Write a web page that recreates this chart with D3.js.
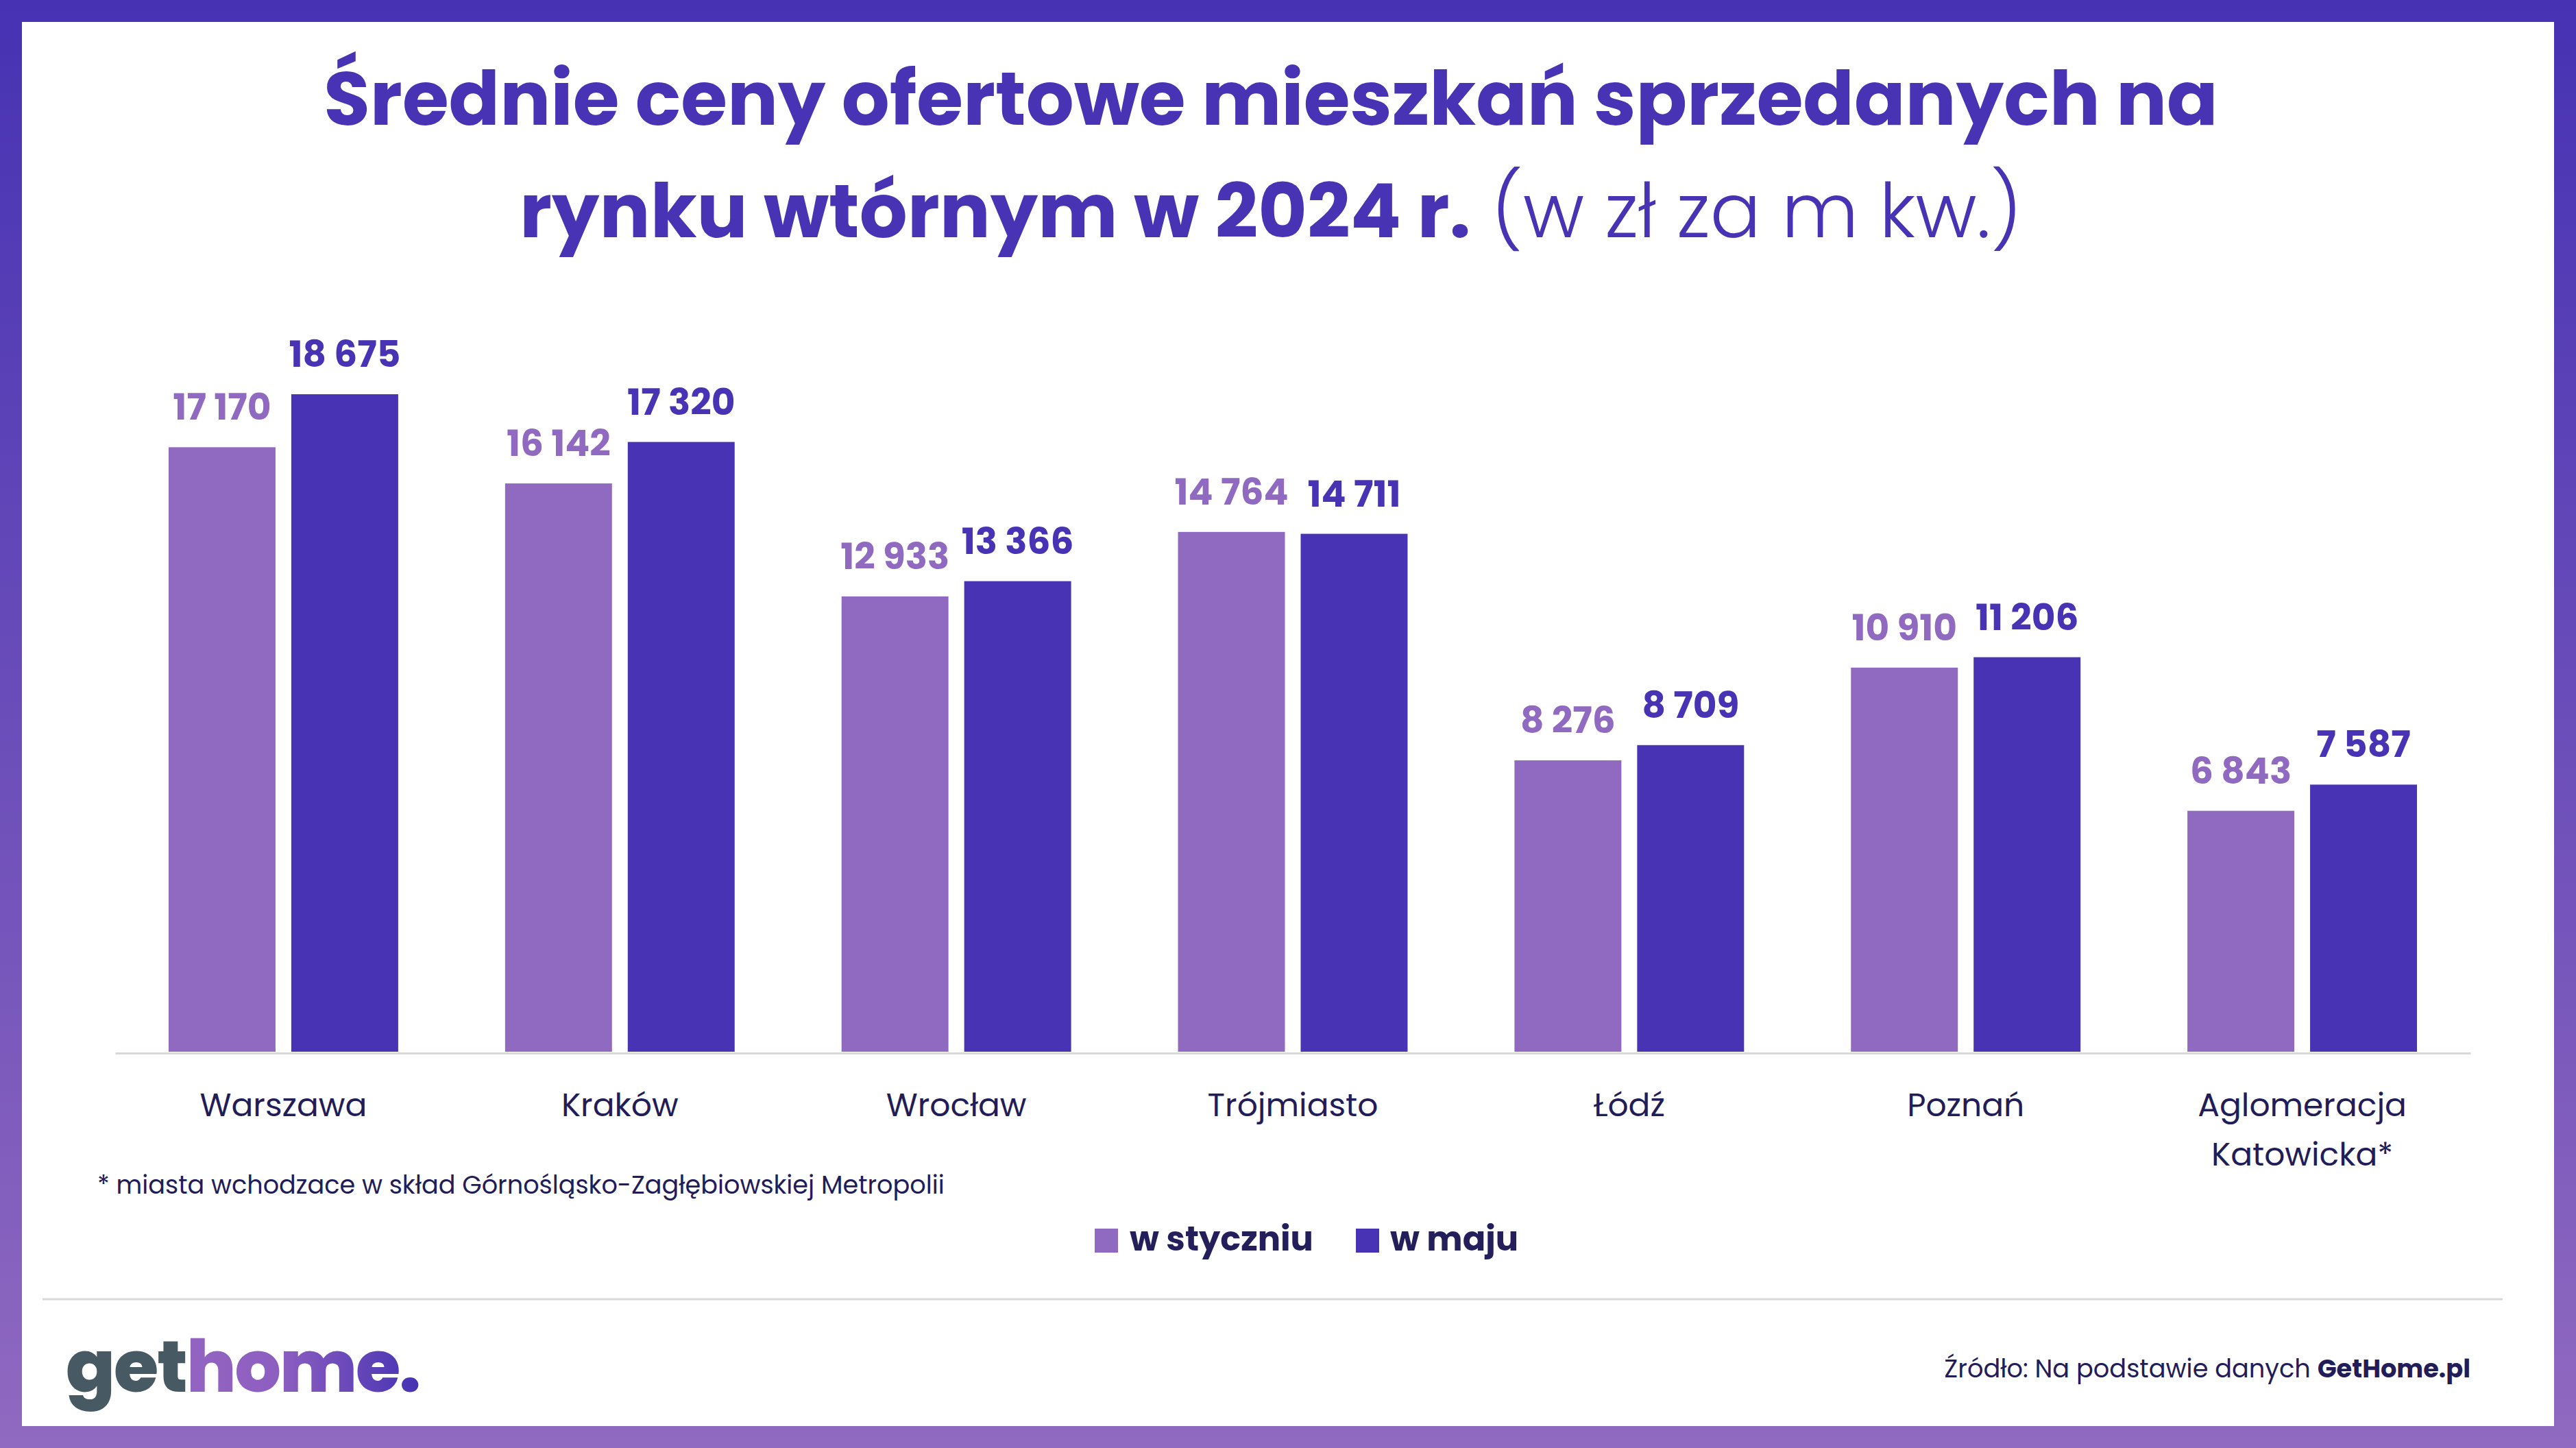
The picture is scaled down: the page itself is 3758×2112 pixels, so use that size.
<!DOCTYPE html>
<html>
<head>
<meta charset="utf-8">
<script src="https://cdn.jsdelivr.net/npm/d3@7"></script>
<style>
  html, body { margin: 0; padding: 0; background: #fff; }
  svg { display: block; }
</style>
</head>
<body>
<script>
// ---- data ----
const categories = ["Warszawa", "Kraków", "Wrocław", "Trójmiasto", "Łódź", "Poznań", "Aglomeracja\nKatowicka*"];
const seriesNames = ["w styczniu", "w maju"];
const januaryValues = [17170, 16142, 12933, 14764, 8276, 10910, 6843];
const mayValues = [18675, 17320, 13366, 14711, 8709, 11206, 7587];
const titleLine1 = "Średnie ceny ofertowe mieszkań sprzedanych na";
const titleLine2Bold = "rynku wtórnym w 2024 r.";
const titleLine2Light = " (w zł za m kw.)";
const footnote = "* miasta wchodzace w skład Górnośląsko-Zagłębiowskiej Metropolii";
const sourceText = "Źródło: Na podstawie danych ";
const sourceBold = "GetHome.pl";

const W = 3758, H = 2112;
const FONT = "Poppins, Inter, 'Noto Sans', sans-serif";
const C_JAN = "#9069c0", C_MAY = "#4733b3", C_NAVY = "#221d58", C_TITLE = "#4733b3";

const svg = d3.select("body").append("svg").attr("width", W).attr("height", H);
const defs = svg.append("defs");

const frameGrad = defs.append("linearGradient").attr("id", "frameGrad")
  .attr("x1", 0).attr("y1", 0).attr("x2", 0).attr("y2", 1);
frameGrad.append("stop").attr("offset", "0%").attr("stop-color", "#4632b3");
frameGrad.append("stop").attr("offset", "100%").attr("stop-color", "#9069c0");

const logoGrad = defs.append("linearGradient").attr("id", "logoGrad")
  .attr("gradientUnits", "userSpaceOnUse").attr("x1", 300).attr("y1", 0).attr("x2", 614).attr("y2", 0);
logoGrad.append("stop").attr("offset", "0%").attr("stop-color", "#9363c1");
logoGrad.append("stop").attr("offset", "35%").attr("stop-color", "#8c5ec0");
logoGrad.append("stop").attr("offset", "100%").attr("stop-color", "#4532b3");

// frame
svg.append("rect").attr("x", 0).attr("y", 0).attr("width", W).attr("height", H).attr("fill", "url(#frameGrad)");
svg.append("rect").attr("x", 32).attr("y", 32).attr("width", W - 64).attr("height", H - 64).attr("fill", "#ffffff");

function fit(sel, target) {
  const w = sel.node().getComputedTextLength();
  const fs = parseFloat(sel.attr("font-size"));
  sel.attr("font-size", fs * target / w);
  return fs * target / w;
}

// ---- title ----
const t1 = svg.append("text").attr("x", 1854).attr("y", 182).attr("text-anchor", "middle")
  .attr("font-family", FONT).attr("font-weight", 700).attr("font-size", 100)
  .attr("fill", C_TITLE).text(titleLine1);
const titleSize = fit(t1, 2764);
const t2 = svg.append("text").attr("x", 1854).attr("y", 346).attr("text-anchor", "middle")
  .attr("font-family", FONT).attr("font-size", titleSize).attr("fill", C_TITLE);
t2.append("tspan").attr("font-weight", 700).text(titleLine2Bold);
t2.append("tspan").attr("font-weight", 300).text(titleLine2Light);

// ---- scales ----
const x0 = d3.scaleBand().domain(categories).range([168, 3604]).paddingInner(0.3177).paddingOuter(0.15885);
const x1 = d3.scaleBand().domain(seriesNames).range([0, x0.bandwidth()]).paddingInner(0.1285);
const y = d3.scaleLinear().domain([0, 20000]).range([1534, 507]);
const color = d3.scaleOrdinal().domain(seriesNames).range([C_JAN, C_MAY]);

const rows = categories.map((c, i) => ({ cat: c, vals: [
  { s: seriesNames[0], v: januaryValues[i] },
  { s: seriesNames[1], v: mayValues[i] }
]}));

const groups = svg.append("g").selectAll("g").data(rows).join("g")
  .attr("transform", d => `translate(${x0(d.cat)},0)`);

groups.selectAll("rect").data(d => d.vals).join("rect")
  .attr("x", d => x1(d.s)).attr("width", x1.bandwidth())
  .attr("y", d => y(d.v)).attr("height", d => y(0) - y(d.v))
  .attr("fill", d => color(d.s));

// value labels
const fmt = v => d3.format(",")(v).replace(/,/g, " ");
const probe = svg.append("text").attr("font-family", FONT).attr("font-weight", 700)
  .attr("font-size", 56).text(fmt(d3.max(mayValues)));
const valSize = fit(probe, 163);
probe.remove();

groups.selectAll("text.val").data(d => d.vals).join("text").attr("class", "val")
  .attr("x", d => x1(d.s) + x1.bandwidth() / 2).attr("y", d => y(d.v) - 40)
  .attr("text-anchor", "middle").attr("font-family", FONT).attr("font-weight", 700)
  .attr("font-size", valSize).attr("fill", d => color(d.s)).text(d => fmt(d.v));

// axis
const axis = svg.append("g").attr("transform", `translate(0,${y(0) + 2})`)
  .call(d3.axisBottom(x0).tickSize(0).tickFormat(""));
axis.select(".domain").attr("stroke", "#d9d9d9").attr("stroke-width", 3);

// category labels
const probe2 = svg.append("text").attr("font-family", FONT).attr("font-weight", 400)
  .attr("font-size", 48).text("Warszawa");
const catSize = fit(probe2, 244);
probe2.remove();

const catLabels = svg.append("g").selectAll("text").data(categories).join("text")
  .attr("x", d => x0(d) + x0.bandwidth() / 2).attr("y", 1628)
  .attr("text-anchor", "middle").attr("font-family", FONT).attr("font-weight", 400)
  .attr("font-size", catSize).attr("fill", C_NAVY);
catLabels.selectAll("tspan").data(d => d.split("\n")).join("tspan")
  .attr("x", function () { return d3.select(this.parentNode).attr("x"); })
  .attr("dy", (d, i) => i === 0 ? 0 : 72).text(d => d);

// footnote
const fn = svg.append("text").attr("x", 142).attr("y", 1741).attr("font-family", FONT)
  .attr("font-weight", 400).attr("font-size", 36).attr("fill", C_NAVY).text(footnote);
fit(fn, 1236);

// legend
const legendItems = [
  { name: seriesNames[0], sx: 1597, tx: 1648, tw: 268 },
  { name: seriesNames[1], sx: 1978, tx: 2028, tw: 186 }
];
const lg = svg.append("g");
lg.selectAll("rect").data(legendItems).join("rect")
  .attr("x", d => d.sx).attr("y", 1792).attr("width", 34).attr("height", 35)
  .attr("fill", d => color(d.name));
const lp = svg.append("text").attr("font-family", FONT).attr("font-weight", 700)
  .attr("font-size", 50).text(seriesNames[0]);
const legSize = fit(lp, 268);
lp.remove();
lg.selectAll("text").data(legendItems).join("text")
  .attr("x", d => d.tx).attr("y", 1824).attr("font-family", FONT).attr("font-weight", 700)
  .attr("font-size", legSize).attr("fill", "#241f5a").text(d => d.name);

// separator
svg.append("line").attr("x1", 62).attr("x2", 3651).attr("y1", 1895).attr("y2", 1895)
  .attr("stroke", "#d9d9d9").attr("stroke-width", 3);

// logo
const logo = svg.append("text").attr("x", 96).attr("y", 2030).attr("font-family", FONT)
  .attr("font-weight", 800).attr("font-size", 120).attr("letter-spacing", -2);
logo.append("tspan").attr("fill", "#475a64").text("get");
logo.append("tspan").attr("fill", "url(#logoGrad)").text("home.");
fit(logo, 518);

// source
const src = svg.append("text").attr("x", 3604).attr("y", 2009).attr("text-anchor", "end")
  .attr("font-family", FONT).attr("font-size", 36).attr("fill", C_NAVY);
src.append("tspan").attr("font-weight", 400).text(sourceText);
src.append("tspan").attr("font-weight", 700).text(sourceBold);
fit(src, 768);
</script>
</body>
</html>
